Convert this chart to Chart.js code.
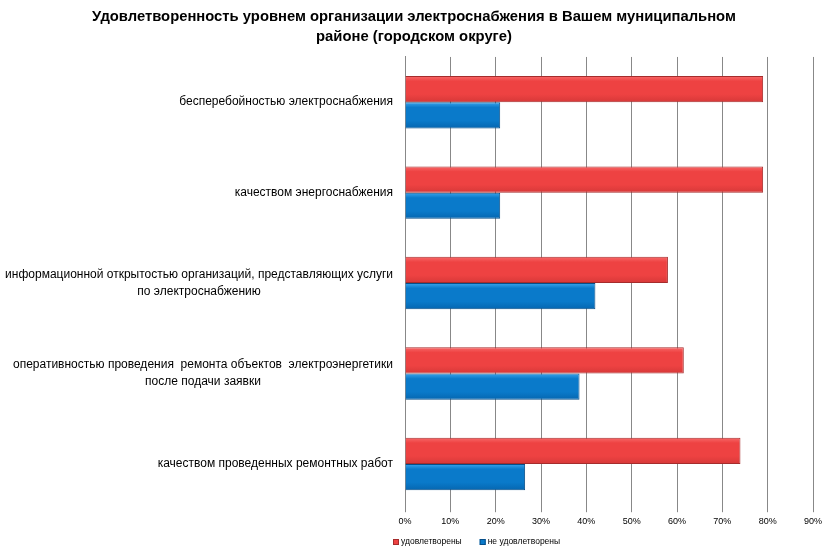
<!DOCTYPE html>
<html>
<head>
<meta charset="utf-8">
<script src="https://cdn.jsdelivr.net/npm/chart.js@4.4.0/dist/chart.umd.min.js"></script>
<style>
  html, body { margin: 0; padding: 0; background: #fff; }
  #wrap { width: 832px; height: 550px; }
</style>
</head>
<body>
<div id="wrap"><canvas id="grafico"></canvas></div>
<script>
// Datos del grafico
const categorias = [
  ["бесперебойностью электроснабжения"],
  ["качеством энергоснабжения"],
  ["информационной открытостью организаций, представляющих услуги", "по электроснабжению"],
  ["оперативностью проведения  ремонта объектов  электроэнергетики", "после подачи заявки"],
  ["качеством проведенных ремонтных работ"]
];
const udovletvoreny = [79, 79, 58, 61.5, 74];
const neUdovletvoreny = [21, 21, 42, 38.5, 26.5];
const ticksX = [0, 10, 20, 30, 40, 50, 60, 70, 80, 90];

const fuente = "'Liberation Sans', 'DejaVu Sans', sans-serif";

// Colores de las barras (arriba, medio, abajo, borde)
const coloresSerie = [
  ["#F86A6A", "#EE4242", "#D63838", "#A52C2C"],
  ["#3AA4EC", "#0A7ACA", "#0566B0", "#074E88"]
];

// Plugin que aplica un degradado a cada barra
const degradado = {
  id: 'degradado',
  beforeDatasetsDraw(chart) {
    const ctx = chart.ctx;
    chart.data.datasets.forEach((ds, i) => {
      const c = coloresSerie[i];
      chart.getDatasetMeta(i).data.forEach(bar => {
        const y0 = bar.y - bar.height / 2;
        const g = ctx.createLinearGradient(0, y0, 0, y0 + bar.height);
        g.addColorStop(0, c[0]);
        g.addColorStop(0.2, c[1]);
        g.addColorStop(0.7, c[1]);
        g.addColorStop(1, c[2]);
        bar.options.backgroundColor = g;
      });
    });
  }
};

// Plugin que dibuja las etiquetas de categoria y la leyenda
const etiquetasCat = {
  id: 'etiquetasCat',
  afterDraw(chart) {
    const ctx = chart.ctx;
    const ejeY = chart.scales.y;
    const derecha = ejeY.right - 12;
    ctx.save();
    ctx.font = "12px " + fuente;
    ctx.fillStyle = "#000";
    ctx.textAlign = "center";
    ctx.textBaseline = "middle";
    categorias.forEach((lineas, i) => {
      const yc = ejeY.getPixelForTick(i);
      let ancho = 0;
      lineas.forEach(l => { ancho = Math.max(ancho, ctx.measureText(l).width); });
      const xc = derecha - ancho / 2;
      const alto = 17;
      const y0 = yc - (lineas.length - 1) * alto / 2;
      lineas.forEach((l, j) => ctx.fillText(l, xc, y0 + j * alto));
    });

    // Leyenda
    ctx.font = "8.5px " + fuente;
    ctx.textAlign = "left";
    let x = 393;
    const y = 542;
    chart.data.datasets.forEach((ds, i) => {
      ctx.fillStyle = coloresSerie[i][1];
      ctx.fillRect(x, y - 3, 6, 6);
      ctx.strokeStyle = coloresSerie[i][3];
      ctx.lineWidth = 1;
      ctx.strokeRect(x + 0.5, y - 2.5, 5, 5);
      ctx.fillStyle = "#000";
      ctx.fillText(ds.label, x + 8, y);
      x += 8 + ctx.measureText(ds.label).width + 18;
    });
    ctx.restore();
  }
};

const canvas = document.getElementById("grafico");
new Chart(canvas, {
  type: 'bar',
  data: {
    labels: categorias.map(c => c.join(" ")),
    datasets: [{
      label: "удовлетворены",
      data: udovletvoreny,
      backgroundColor: c => coloresSerie[0][1],
      borderColor: coloresSerie[0][3],
      borderWidth: 1,
      categoryPercentage: 0.58,
      barPercentage: 1.0
    }, {
      label: "не удовлетворены",
      data: neUdovletvoreny,
      backgroundColor: c => coloresSerie[1][1],
      borderColor: coloresSerie[1][3],
      borderWidth: 1,
      categoryPercentage: 0.58,
      barPercentage: 1.0
    }]
  },
  options: {
    indexAxis: 'y',
    responsive: true,
    maintainAspectRatio: false,
    animation: false,
    layout: { padding: { left: 15, right: 19, top: 0, bottom: 19 } },
    plugins: {
      title: {
        display: true,
        text: ["Удовлетворенность уровнем организации электроснабжения в Вашем муниципальном", "районе (городском округе)"],
        font: { family: fuente, size: 14.8, weight: 'bold', lineHeight: 1.35 },
        color: "#000",
        padding: { top: 7, bottom: 10 }
      },
      legend: { display: false },
      tooltip: { enabled: false }
    },
    scales: {
      x: {
        min: 0,
        max: 90,
        afterBuildTicks(scale) { scale.ticks = ticksX.map(v => ({ value: v })); },
        ticks: {
          callback: v => v + "%",
          color: "#000",
          font: { family: fuente, size: 9 },
          padding: 4
        },
        grid: { color: "#888", lineWidth: 1, drawTicks: true, tickLength: 3 },
        border: { display: false }
      },
      y: {
        afterFit(scale) { scale.width = 390; },
        ticks: { display: false },
        grid: { display: false },
        border: { display: true, color: "#888" }
      }
    }
  },
  plugins: [degradado, etiquetasCat]
});
</script>
</body>
</html>
